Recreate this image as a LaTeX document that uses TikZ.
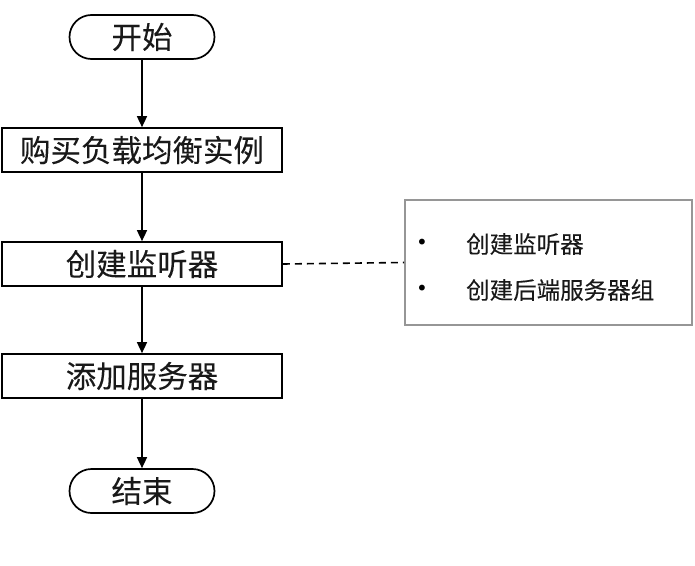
\documentclass[tikz,border=0pt]{standalone}
\usepackage{fontspec}
\setmainfont{Noto Sans CJK SC}
\newfontfamily\cjk[FakeBold=0.12]{Noto Sans CJK SC}
\newfontfamily\bulletfont{DejaVu Sans}
\usetikzlibrary{shapes.misc,arrows.meta}
\definecolor{sidegray}{RGB}{150,150,150}
\begin{document}
\begin{tikzpicture}[x=1pt,y=-1pt,
  txt/.style={font=\cjk\fontsize{30.5}{32}\selectfont,text=black!90},
  stepbox/.style={draw,line width=1.7pt,rectangle,minimum width=280pt,minimum height=44pt,inner sep=0pt,txt},
  termbox/.style={draw,line width=1.7pt,rounded rectangle,minimum width=145pt,minimum height=44pt,inner sep=0pt,txt},
  flow/.style={line width=1.6pt,-{Triangle[length=11pt,width=10pt]}},
  sidetxt/.style={font=\cjk\fontsize{23.5}{25}\selectfont,text=black!90,anchor=west,inner sep=0pt},
  bullet/.style={font=\bulletfont\fontsize{20}{22}\selectfont,inner sep=0pt}
]
\useasboundingbox (0,0) rectangle (695,565);
\node[termbox] (start) at (142,37) {开始};
\node[stepbox] (buy) at (142,150) {购买负载均衡实例};
\node[stepbox] (listen) at (142,264) {创建监听器};
\node[stepbox] (add) at (142,376) {添加服务器};
\node[termbox] (end) at (142,491) {结束};
\node[draw=sidegray,line width=1.7pt,rectangle,minimum width=287pt,minimum height=125pt,inner sep=0pt] (side) at (548.5,262.5) {};
\node[bullet] (b1) at (422,244) {•};
\node[bullet] (b2) at (422,290) {•};
\node[sidetxt] (t1) at (466,244) {创建监听器};
\node[sidetxt] (t2) at (466,290) {创建后端服务器组};
\draw[flow] (start) -- (buy);
\draw[flow] (buy) -- (listen);
\draw[flow] (listen) -- (add);
\draw[flow] (add) -- (end);
\draw[line width=1.6pt,dash pattern=on 7pt off 5pt] (listen.east) -- (side.west);
\end{tikzpicture}
\end{document}
